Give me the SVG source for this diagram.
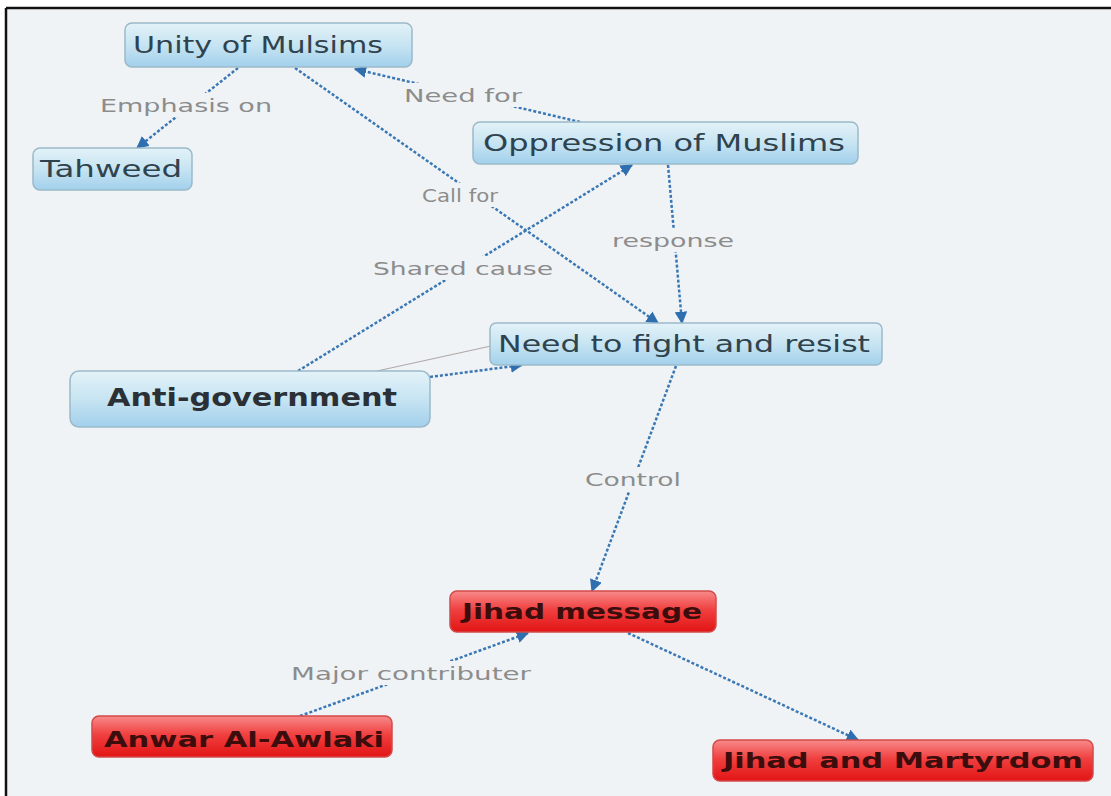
<svg xmlns="http://www.w3.org/2000/svg" width="1111" height="796" viewBox="0 0 1111 796">
<defs>
<linearGradient id="gBlue" x1="0" y1="0" x2="0" y2="1">
<stop offset="0" stop-color="#e3f2f8"/>
<stop offset="0.5" stop-color="#c7e4f2"/>
<stop offset="1" stop-color="#a2d0ec"/>
</linearGradient>
<linearGradient id="gRed" x1="0" y1="0" x2="0" y2="1">
<stop offset="0" stop-color="#f98a8a"/>
<stop offset="0.45" stop-color="#f04040"/>
<stop offset="1" stop-color="#e21414"/>
</linearGradient>
<marker id="arr" viewBox="0 0 10 10" refX="9" refY="5" markerWidth="5" markerHeight="5" orient="auto" markerUnits="strokeWidth">
<path d="M0,0 L10,5 L0,10 z" fill="#2f6fb0"/>
</marker>
<style>
.blue{fill:url(#gBlue);stroke:#9bb9c9;stroke-width:1.5}
.red{fill:url(#gRed);stroke:#d24a4a;stroke-width:1.5}
.nt{font-family:"DejaVu Sans","Open Sans",sans-serif;font-size:23px;fill:#2f434e;text-anchor:middle;dominant-baseline:central}
.bt{font-family:"DejaVu Sans","Open Sans",sans-serif;font-size:24px;font-weight:bold;fill:#2a3036;text-anchor:middle;dominant-baseline:central}
.rt{font-family:"DejaVu Sans","Open Sans",sans-serif;font-size:21px;font-weight:bold;fill:#3b0d0d;text-anchor:middle;dominant-baseline:central}
.e{fill:none;stroke:#3a78b5;stroke-width:2.5;stroke-dasharray:3 2;marker-end:url(#arr)}
.lb{font-family:"DejaVu Sans","Open Sans",sans-serif;font-size:18px;fill:#8c8c8c;text-anchor:middle;dominant-baseline:central}
</style>
</defs>
<rect x="0" y="0" width="1111" height="796" fill="#ffffff"/>
<rect x="6" y="8" width="1105" height="788" fill="#f0f3f6"/>
<line x1="6" y1="8" x2="1111" y2="8" stroke="#111" stroke-width="2.5"/>
<line x1="6" y1="8" x2="6" y2="796" stroke="#111" stroke-width="2.5"/>

<g id="connectors">
<line x1="377" y1="371" x2="491" y2="346" stroke="#b0a8a8" stroke-width="1.2"/>
<line class="e" x1="238" y1="68" x2="137" y2="148"/>
<line class="e" x1="580" y1="122" x2="355" y2="69"/>
<line class="e" x1="295" y1="68" x2="658" y2="323"/>
<line class="e" x1="298" y1="371" x2="632" y2="165"/>
<line class="e" x1="668" y1="165" x2="682" y2="323"/>
<line class="e" x1="430" y1="377" x2="522" y2="365"/>
<line class="e" x1="676" y1="366" x2="592" y2="591"/>
<line class="e" x1="300" y1="716" x2="528" y2="633"/>
<line class="e" x1="628" y1="633" x2="858" y2="740"/>
<rect x="96" y="93" width="180" height="24" fill="#f0f3f6"/>
<text class="lb" x="186" y="105" textLength="172" lengthAdjust="spacingAndGlyphs">Emphasis on</text>
<rect x="400" y="83" width="126" height="24" fill="#f0f3f6"/>
<text class="lb" x="463" y="95" textLength="118" lengthAdjust="spacingAndGlyphs">Need for</text>
<rect x="418" y="183" width="84" height="24" fill="#f0f3f6"/>
<text class="lb" x="460" y="195" textLength="76" lengthAdjust="spacingAndGlyphs">Call for</text>
<rect x="370" y="256" width="188" height="24" fill="#f0f3f6"/>
<text class="lb" x="463" y="268" textLength="180" lengthAdjust="spacingAndGlyphs">Shared cause</text>
<rect x="608" y="228" width="130" height="24" fill="#f0f3f6"/>
<text class="lb" x="673" y="240" textLength="122" lengthAdjust="spacingAndGlyphs">response</text>
<rect x="580" y="467" width="106" height="24" fill="#f0f3f6"/>
<text class="lb" x="633" y="479" textLength="96" lengthAdjust="spacingAndGlyphs">Control</text>
<rect x="286" y="661" width="250" height="24" fill="#f0f3f6"/>
<text class="lb" x="411" y="673" textLength="240" lengthAdjust="spacingAndGlyphs">Major contributer</text>
</g>

<g id="n-unity"><rect class="blue" x="125" y="23" width="287" height="44" rx="7"/><text class="nt" x="258" y="45" textLength="250" lengthAdjust="spacingAndGlyphs">Unity of Mulsims</text></g>
<g id="n-tahweed"><rect class="blue" x="33" y="148" width="159" height="42" rx="7"/><text class="nt" x="111" y="169" textLength="142" lengthAdjust="spacingAndGlyphs">Tahweed</text></g>
<g id="n-oppression"><rect class="blue" x="473" y="122" width="385" height="42" rx="7"/><text class="nt" x="664" y="143" textLength="362" lengthAdjust="spacingAndGlyphs">Oppression of Muslims</text></g>
<g id="n-fight"><rect class="blue" x="490" y="323" width="392" height="42" rx="6"/><text class="nt" x="684" y="344" textLength="372" lengthAdjust="spacingAndGlyphs">Need to fight and resist</text></g>
<g id="n-anti"><rect class="blue" x="70" y="371" width="360" height="56" rx="9"/><text class="bt" x="252" y="398" textLength="290" lengthAdjust="spacingAndGlyphs">Anti-government</text></g>
<g id="n-jihadmsg"><rect class="red" x="450" y="591" width="266" height="41" rx="7"/><text class="rt" x="582" y="612" textLength="240" lengthAdjust="spacingAndGlyphs">Jihad message</text></g>
<g id="n-anwar"><rect class="red" x="92" y="716" width="300" height="41" rx="7"/><text class="rt" x="244" y="740" textLength="280" lengthAdjust="spacingAndGlyphs">Anwar Al-Awlaki</text></g>
<g id="n-martyr"><rect class="red" x="713" y="740" width="380" height="41" rx="7"/><text class="rt" x="903" y="761" textLength="360" lengthAdjust="spacingAndGlyphs">Jihad and Martyrdom</text></g>
</svg>
